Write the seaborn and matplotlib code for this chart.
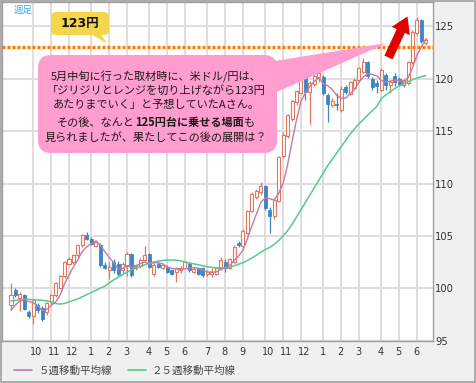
import numpy as np
import pandas as pd
import matplotlib
matplotlib.use("Agg")
import matplotlib.pyplot as plt
import matplotlib.transforms as mtransforms
from matplotlib.patches import FancyBboxPatch, Polygon, Rectangle
from matplotlib.lines import Line2D
import seaborn as sns

# ── Canvas ───────────────────────────────────────────────────────────────────
W, H, DPI = 476, 383, 100

# ── Data: weekly USD/JPY candles ─────────────────────────────────────────────
FIRST_WEEK = "2013-09-02"

OPEN = [98.4, 99.8, 99.05, 99.35, 97.7, 97.4, 98.4, 98.1, 97.7, 98.7,
        99.35, 100.0, 101.2, 102.35, 102.5, 103.15, 104.1, 105.05, 104.75, 104.05,
        104.1, 102.2, 101.7, 102.5, 102.35, 101.7, 102.2, 103.25, 101.9, 102.1,
        102.7, 103.25, 101.4, 102.35, 101.95, 102.05, 101.7, 101.55, 101.7, 101.9,
        102.35, 101.6, 101.9, 101.9, 101.4, 101.4, 101.4, 101.9, 102.5, 101.9,
        102.5, 104.3, 104.0, 105.3, 107.4, 108.7, 109.2, 109.8, 107.5, 106.9,
        108.3, 112.6, 114.5, 116.2, 117.8, 118.6, 121.6, 118.7, 119.5, 120.2,
        120.2, 118.4, 117.45, 117.6, 117.0, 119.2, 118.55, 119.1, 119.85, 120.6,
        121.6, 120.0, 119.6, 118.95, 120.4, 119.4, 120.3, 120.0, 119.4, 119.6,
        121.6, 124.35, 125.6, 123.4]
HIGH = [100.5, 100.0, 99.6, 99.5, 97.9, 99.0, 98.6, 98.3, 98.7, 99.5,
        100.6, 101.3, 102.6, 103.0, 103.3, 104.2, 105.2, 105.4, 104.9, 104.6,
        104.3, 102.5, 102.5, 102.8, 102.6, 102.5, 103.5, 103.4, 102.3, 102.9,
        104.05, 103.4, 102.4, 102.5, 102.3, 102.2, 101.8, 102.0, 102.1, 102.6,
        102.5, 102.0, 102.0, 102.0, 101.7, 101.9, 102.0, 103.0, 102.8, 102.9,
        104.1, 104.5, 105.7, 107.5, 109.2, 109.5, 110.1, 109.9, 107.8, 108.6,
        112.6, 114.9, 116.6, 118.0, 118.9, 121.8, 121.7, 119.8, 120.6, 120.8,
        120.4, 118.6, 118.2, 118.6, 119.3, 119.4, 119.8, 120.1, 121.1, 122.0,
        121.7, 120.2, 119.9, 121.0, 120.5, 119.9, 120.5, 120.2, 120.0, 121.7,
        124.6, 125.9, 125.7, 123.9]
LOW = [97.9, 99.2, 97.8, 97.9, 97.2, 96.6, 97.6, 96.9, 97.5, 98.5,
       99.2, 99.9, 101.0, 102.2, 102.3, 103.0, 103.9, 104.6, 104.1, 103.9,
       102.0, 101.8, 100.9, 101.5, 101.2, 101.5, 101.2, 101.1, 101.7, 101.9,
       102.6, 101.9, 101.2, 101.9, 101.8, 101.5, 101.3, 100.6, 101.5, 101.8,
       101.6, 101.5, 101.3, 101.1, 101.2, 101.1, 101.3, 101.7, 101.6, 101.8,
       102.4, 103.9, 103.9, 105.2, 107.3, 108.5, 108.9, 107.5, 105.3, 106.6,
       108.2, 112.4, 114.3, 116.0, 117.5, 118.5, 118.0, 115.7, 119.3, 119.7,
       118.4, 115.9, 117.3, 117.0, 116.8, 118.5, 118.4, 119.0, 119.7, 120.5,
       120.1, 118.9, 118.6, 118.8, 118.9, 118.6, 119.3, 119.3, 119.2, 119.4,
       121.4, 124.2, 123.4, 123.2]
CLOSE = [99.4, 99.35, 99.5, 98.0, 97.4, 98.9, 97.9, 97.1, 98.6, 99.35,
         100.5, 101.2, 102.5, 102.8, 103.15, 104.1, 105.05, 104.75, 104.27, 104.4,
         102.2, 101.95, 102.0, 101.7, 101.4, 102.35, 103.3, 101.25, 102.2, 102.7,
         103.15, 102.05, 102.2, 102.05, 102.25, 101.6, 101.4, 101.9, 101.95, 102.5,
         101.7, 101.85, 101.4, 101.25, 101.6, 101.6, 101.9, 102.7, 101.9, 102.8,
         103.9, 104.1, 105.5, 107.4, 109.0, 109.3, 109.8, 107.7, 106.9, 108.4,
         112.5, 114.6, 116.5, 117.9, 118.8, 121.4, 118.7, 119.6, 120.3, 120.5,
         118.6, 117.6, 117.9, 117.45, 119.05, 118.7, 119.7, 119.9, 121.0, 121.6,
         120.3, 119.2, 119.3, 120.85, 119.4, 119.7, 119.7, 119.5, 119.9, 121.6,
         124.5, 125.6, 123.55, 123.7]

# moving averages as drawn on the chart
MA5 = [97.9, 98.4, 98.8, 98.9, 98.73, 98.63, 98.34, 97.86, 97.98, 98.37,
       98.69, 99.35, 100.43, 101.27, 102.03, 102.75, 103.52, 103.97, 104.26, 104.51,
       104.13, 103.51, 102.96, 102.45, 101.85, 101.88, 102.15, 102.0, 102.1, 102.36,
       102.52, 102.27, 102.46, 102.43, 102.34, 102.03, 101.9, 101.84, 101.82, 101.87,
       101.89, 101.98, 101.88, 101.74, 101.56, 101.54, 101.55, 101.81, 101.94, 102.18,
       102.64, 103.08, 103.64, 104.74, 105.98, 107.06, 108.2, 108.64, 108.54, 108.42,
       109.06, 110.02, 111.78, 113.98, 116.06, 117.84, 118.66, 119.28, 119.76, 120.1,
       119.54, 119.32, 118.98, 118.41, 118.12, 118.14, 118.56, 118.96, 119.67, 120.18,
       120.5, 120.4, 120.28, 119.85, 119.67, 119.77, 119.85, 119.83, 119.64, 120.08,
       121.04, 122.22, 123.03, 123.79]
MA25 = [98.8, 98.85, 98.9, 98.95, 98.95, 98.9, 98.9, 98.85, 98.8, 98.7,
        98.55, 98.5, 98.55, 98.7, 98.85, 99.0, 99.2, 99.4, 99.6, 99.8,
        100.0, 100.2, 100.5, 100.8, 101.05, 101.3, 101.55, 101.75, 101.95, 102.1,
        102.25, 102.4, 102.5, 102.6, 102.65, 102.7, 102.7, 102.68, 102.62, 102.5,
        102.42, 102.33, 102.25, 102.15, 102.05, 102.0, 101.95, 101.95, 101.97, 102.02,
        102.15, 102.3, 102.45, 102.65, 102.9, 103.15, 103.45, 103.7, 103.9, 104.2,
        104.55, 105.0, 105.5, 106.1, 106.8, 107.5, 108.2, 108.9, 109.6, 110.3,
        111.0, 111.7, 112.3, 112.9, 113.5, 114.1, 114.7, 115.2, 115.7, 116.1,
        116.55, 116.95, 117.35, 118.1, 118.45, 118.75, 119.05, 119.3, 119.5, 119.7,
        119.9, 120.05, 120.2, 120.3]

Y_TICKS = [95, 100, 105, 110, 115, 120, 125]
TARGET_LEVEL = 123
LEGEND_LABELS = ["５週移動平均線", "２５週移動平均線"]

# ── Colours ──────────────────────────────────────────────────────────────────
UP_C, DOWN_C = "#e2775c", "#3d86c6"
MA5_C, MA25_C = "#c27aa8", "#55c98e"
GRID_C, FRAME_C, BG_C = "#dedede", "#a0a0a0", "#f0f0f0"

df = pd.DataFrame({"date": pd.date_range(FIRST_WEEK, periods=len(CLOSE), freq="W-MON"),
                   "open": OPEN, "high": HIGH, "low": LOW, "close": CLOSE,
                   "ma5": MA5, "ma25": MA25})
df["x"] = np.arange(len(df))
df["up"] = df["close"] >= df["open"]

# gridlines at the first week of each month
month_idx = [i for i in range(1, len(df)) if df["date"][i].month != df["date"][i - 1].month]
month_lab = [str(df["date"][i].month) for i in month_idx]

sns.set_theme(style="white")
plt.rcParams["font.family"] = ["DejaVu Sans", "Noto Sans CJK JP"]
JP = ["Noto Sans CJK JP", "DejaVu Sans"]

fig = plt.figure(figsize=(W / DPI, H / DPI), dpi=DPI, facecolor=BG_C)
ax = fig.add_axes([2 / W, 1 - 340.7 / H, 431 / W, 338.7 / H])
ax.set_facecolor("white")


def P(x, y):
    """pixel (top-left origin) -> inches for fig.dpi_scale_trans"""
    return (x / DPI, (H - y) / DPI)


# ---- candles ----
wick_c = np.where(df["up"], UP_C, DOWN_C)
ax.vlines(df["x"], df["low"], df["high"], colors=wick_c, lw=0.9, zorder=2)
up, dn = df[df["up"]], df[~df["up"]]
ax.bar(up["x"], (up["close"] - up["open"]).clip(lower=0.06), bottom=up["open"], width=0.68,
       facecolor="white", edgecolor=UP_C, lw=0.8, zorder=3)
ax.bar(dn["x"], (dn["open"] - dn["close"]).clip(lower=0.06), bottom=dn["close"], width=0.68,
       facecolor=DOWN_C, edgecolor=DOWN_C, lw=0.6, zorder=3)

# ---- moving averages ----
sns.lineplot(data=df, x="x", y="ma25", ax=ax, color=MA25_C, lw=1.1, zorder=4)
sns.lineplot(data=df, x="x", y="ma5", ax=ax, color=MA5_C, lw=1.0, zorder=4)

# ---- 123 yen level ----
ax.axhline(TARGET_LEVEL, color="#ff7a00", lw=2.4, linestyle=(0, (0.9, 0.6)), zorder=5)

# ---- axes styling ----
ax.set_xlim(-2.02, 94.6)
ax.set_ylim(95, 95 + 338.7 / 10.48)
ax.set_xlabel("")
ax.set_ylabel("")
ax.set_xticks(month_idx)
ax.set_xticklabels(month_lab)
ax.set_yticks(Y_TICKS)
ax.yaxis.tick_right()
ax.grid(True, color=GRID_C, lw=1.4)
ax.set_axisbelow(True)
ax.tick_params(axis="x", length=0, pad=4.2, labelsize=7, colors="#333333")
ax.tick_params(axis="y", length=0, pad=1.5, labelsize=7.2, colors="#333333")
for s in ax.spines.values():
    s.set_color(FRAME_C)
    s.set_linewidth(1.0)

shift = mtransforms.ScaledTranslation(-3.5 / DPI, 0, fig.dpi_scale_trans)
for lab in ax.get_xticklabels():
    lab.set_horizontalalignment("left")
    lab.set_transform(lab.get_transform() + shift)

# ---- legend ----
handles = [Line2D([], [], color=MA5_C, lw=1.2), Line2D([], [], color=MA25_C, lw=1.2)]
leg = fig.legend(handles, LEGEND_LABELS, loc="center left", bbox_to_anchor=(14 / W, 1 - 370.5 / H),
                 ncol=2, frameon=False, handlelength=1.75, handletextpad=0.55, columnspacing=1.5,
                 borderpad=0, borderaxespad=0, prop={"family": JP, "size": 7.6})
for t in leg.get_texts():
    t.set_color("#444444")

# ---- outer frame ----
fig.add_artist(Rectangle((0.75 / W, 0.75 / H), (W - 1.5) / W, (H - 1.5) / H, transform=fig.transFigure,
                         fill=False, edgecolor=FRAME_C, lw=1.2, zorder=10))

T = fig.dpi_scale_trans

# ---- "週足" tag ----
fig.text(*P(23, 10), "週足", transform=T, ha="center", va="center",
         family=JP, fontsize=6.8, color="#3aa8e8")

# ---- yellow "123円" callout ----
fig.add_artist(Polygon([P(89, 33), P(107, 43.5), P(100, 33)], closed=True, transform=T,
                       facecolor="#f5d64b", edgecolor="none", zorder=6))
x0, y0 = P(51, 35)
fig.add_artist(FancyBboxPatch((x0, y0), 58 / DPI, 23 / DPI, transform=T,
                              boxstyle=f"round,pad=0,rounding_size={5 / DPI}",
                              facecolor="#f5d64b", edgecolor="none", zorder=6))
fig.text(*P(80, 23.5), "123円", transform=T, ha="center", va="center", zorder=7,
         family=["DejaVu Sans", "Noto Sans CJK JP"], fontsize=9, fontweight="bold", color="#111111")

# ---- pink comment callout ----
PINK = "#ff9dcf"
fig.add_artist(Polygon([P(262, 63), P(387, 43), P(277, 92)], closed=True, transform=T,
                       facecolor=PINK, edgecolor="none", zorder=6))
x0, y0 = P(38, 153)
fig.add_artist(FancyBboxPatch((x0, y0), 239 / DPI, 98 / DPI, transform=T,
                              boxstyle=f"round,pad=0,rounding_size={13 / DPI}",
                              facecolor=PINK, edgecolor="none", zorder=6))

TXT = dict(transform=T, va="center", family=JP, fontsize=8, color="#1a1a1a", zorder=7)
lines = [(76.7, "5月中旬に行った取材時に、米ドル/円は、"),
         (90.7, "「ジリジリとレンジを切り上げながら123円"),
         (104.7, "あたりまでいく」と予想していたAさん。"),
         (137.3, "見られましたが、果たしてこの後の展開は？")]
for yy, s in lines:
    fig.text(*P(156, yy), s, ha="center", **TXT)

# line with a bold middle part
parts = [("その後、なんと", "normal"), ("125円台に乗せる場面", "bold"), ("も", "normal")]
pieces = [fig.text(0, 0, s, ha="left", fontweight=w, **TXT) for s, w in parts]
renderer = fig.canvas.get_renderer()
widths = [p.get_window_extent(renderer).width for p in pieces]
xx = 156 - sum(widths) / 2
for p, w in zip(pieces, widths):
    p.set_position(P(xx, 122.3))
    xx += w

# ---- red arrow ----
tip, tail = np.array([407.5, 16.5]), np.array([388.5, 57.5])
u = (tip - tail) / np.linalg.norm(tip - tail)
n = np.array([-u[1], u[0]])
hl, hw, sw = 16, 20, 9
base = tip - u * hl
pts = [tail + n * sw / 2, base + n * sw / 2, base + n * hw / 2, tip,
       base - n * hw / 2, base - n * sw / 2, tail - n * sw / 2]
fig.add_artist(Polygon([P(*p) for p in pts], closed=True, transform=T,
                       facecolor="#e00000", edgecolor="none", zorder=8))

fig.savefig("out.png", dpi=DPI, facecolor=BG_C)
